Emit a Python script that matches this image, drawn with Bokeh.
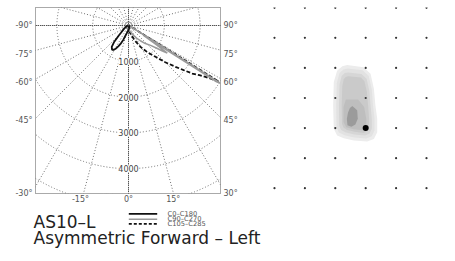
import numpy as np
from bokeh.plotting import figure
from bokeh.models import Range1d, FixedTicker, LinearAxis
from bokeh.layouts import column, row
from bokeh.embed import file_html
from bokeh.resources import INLINE
from bokeh.core.properties import value

# ---------------- data ----------------
# polar intensity curves (angle from nadir in degrees, intensity in cd)
c0_theta = [-90, -80, -70, -60, -55, -50, -46, -44, -41, -38, -34, -31, -29, -26, -23.5, -20, -16.5, -12, -8, -4, 0, 5, 10, 20, 30, 45, 60, 75, 90]
c0_cd = [15, 25, 45, 100, 150, 210, 300, 390, 620, 760, 820, 790, 745, 650, 560, 420, 292, 210, 170, 140, 120, 100, 85, 60, 45, 30, 20, 15, 10]

c90_theta = [-90, -60, -30, -10, 0, 10, 20, 28, 33, 38, 43, 48, 51, 53, 54.5, 55.3, 56, 56.8, 57.4, 57.9, 58.4, 59, 62, 70, 80, 90]
c90_cd = [10, 30, 60, 90, 100, 140, 200, 316, 430, 540, 690, 830, 1000, 1170, 1330, 1000, 600, 500, 2900, 3050, 1200, 300, 150, 80, 40, 20]

c105_theta = [-90, -60, -30, -10, 0, 8, 14, 22, 29.4, 35, 40.8, 45, 48.7, 51, 53, 55, 56.3, 57.3, 58.1, 58.5, 59, 61, 70, 90]
c105_cd = [10, 30, 60, 90, 110, 160, 230, 430, 684, 900, 1155, 1450, 1748, 1980, 2228, 2420, 2584, 2780, 2973, 1500, 300, 150, 60, 20]

ring_values = [1000, 2000, 3000, 4000, 5000, 6000, 7000]
ring_labels = ["1000", "2000", "3000", "4000"]
side_ticks = [0, -810, -1592, -2654, -4693]
left_labels = ["-90°", "-75°", "-60°", "-45°", "-30°"]
right_labels = ["90°", "75°", "60°", "45°", "30°"]
bottom_ticks = [-1340, 0, 1250]
bottom_labels = ["-15°", "0°", "15°"]

legend_names = ["C0–C180", "C90–C270", "C105–C285"]
title_main = "AS10–L"
title_sub = "Asymmetric Forward – Left"

# isolux contours (grid units, dots at integer positions)
iso_grid_x = [0, 1, 2, 3, 4, 5]
iso_grid_y = [0, 1, 2, 3, 4, 5, 6]
lum_pos = (3, 4)
iso_levels = [
    ([2.39, 2.93, 3.16, 3.27, 3.32, 3.38, 3.38, 3.27, 3.05, 2.61, 2.28, 2.06, 1.95, 1.93, 1.95, 2.06, 2.23],
     [1.90, 1.98, 2.19, 2.69, 3.25, 3.69, 4.14, 4.36, 4.45, 4.41, 4.34, 4.25, 4.02, 3.25, 2.47, 2.09, 1.94]),
    ([2.40, 2.90, 3.10, 3.20, 3.24, 3.29, 3.29, 3.20, 3.02, 2.62, 2.31, 2.12, 2.04, 2.03, 2.05, 2.14, 2.27],
     [2.02, 2.08, 2.27, 2.72, 3.25, 3.68, 4.08, 4.27, 4.35, 4.31, 4.24, 4.15, 3.97, 3.25, 2.50, 2.17, 2.05]),
    ([2.42, 2.86, 3.03, 3.12, 3.16, 3.20, 3.20, 3.13, 2.98, 2.63, 2.35, 2.19, 2.13, 2.12, 2.14, 2.21, 2.31],
     [2.15, 2.20, 2.36, 2.76, 3.25, 3.67, 4.02, 4.18, 4.25, 4.21, 4.15, 4.06, 3.92, 3.25, 2.55, 2.27, 2.17]),
    ([2.42, 2.85, 2.96, 3.04, 3.08, 3.11, 3.11, 3.05, 2.94, 2.64, 2.39, 2.27, 2.22, 2.21, 2.23, 2.28, 2.34],
     [2.28, 2.32, 2.45, 2.80, 3.25, 3.66, 3.96, 4.10, 4.16, 4.12, 4.06, 3.98, 3.86, 3.25, 2.60, 2.38, 2.30]),
    ([2.35, 2.75, 2.95, 3.02, 3.02, 2.90, 2.60, 2.36, 2.27, 2.27],
     [3.05, 3.05, 3.30, 3.70, 3.95, 4.07, 4.04, 3.97, 3.80, 3.30]),
    ([2.56, 2.72, 2.74, 2.66, 2.53, 2.40, 2.38, 2.42, 2.48],
     [3.27, 3.41, 3.69, 3.88, 3.96, 3.91, 3.69, 3.48, 3.33]),
]
iso_colors = ["#ececec", "#e2e2e2", "#d6d6d6", "#cacaca", "#bebebe", "#9b9b9b"]

FONT = "DejaVu Sans"

# ---------------- polar figure ----------------
p = figure(width=250, height=208, x_range=Range1d(-2598, 2570), y_range=Range1d(-4693, 503),
           output_backend="svg", toolbar_location=None, x_axis_location=None, y_axis_location=None,
           min_border_left=35, min_border_right=30, min_border_top=7, min_border_bottom=15)
p.xgrid.grid_line_color = None
p.ygrid.grid_line_color = None
p.outline_line_color = "#555555"
p.outline_line_dash = "1 1"
p.background_fill_color = "white"
p.border_fill_color = "white"

def mk_axis(ticks, labels):
    ax = LinearAxis(ticker=FixedTicker(ticks=ticks),
                    major_label_overrides={t: l for t, l in zip(ticks, labels)})
    ax.axis_line_color = None
    ax.major_tick_line_color = None
    ax.minor_tick_line_color = None
    ax.major_tick_out = 0
    ax.major_tick_in = 0
    ax.minor_tick_out = 0
    ax.major_label_text_font_size = "8px"
    ax.major_label_text_color = "#555555"
    ax.major_label_text_font = FONT
    ax.major_label_standoff = 3
    return ax

p.add_layout(mk_axis(side_ticks, left_labels), "left")
p.add_layout(mk_axis(side_ticks, right_labels), "right")
bax = mk_axis(bottom_ticks, bottom_labels)
bax.major_label_standoff = 1
p.add_layout(bax, "below")

# radial grid lines every 15 degrees
R = 8000
ang = np.deg2rad(np.arange(0, 360, 15))
p.segment(x0=0, y0=0, x1=R * np.sin(ang), y1=-R * np.cos(ang),
          line_color="#6f6f6f", line_width=1, line_dash="1 2")
# main axes lines (nadir and horizontal)
p.segment(x0=[0, -R], y0=[-R, 0], x1=[0, R], y1=[R, 0],
          line_color="#444444", line_width=1, line_dash="1 1")
# rings
p.circle(x=0, y=0, radius=ring_values, fill_color=None, line_color="#6f6f6f",
         line_width=1, line_dash="1 2")

def polar_xy(theta, cd):
    t = np.deg2rad(np.asarray(theta, dtype=float))
    r = np.asarray(cd, dtype=float)
    return r * np.sin(t), -r * np.cos(t)

x, y = polar_xy(c105_theta, c105_cd)
p.line(x, y, line_color="#111111", line_width=1.8, line_dash="4 2")
x, y = polar_xy(c90_theta, c90_cd)
p.line(x, y, line_color="#9a9a9a", line_width=1.5)
x, y = polar_xy(c0_theta, c0_cd)
p.line(x, y, line_color="#111111", line_width=1.8)

p.text(x=0, y=[-v for v in ring_values[:4]], text=ring_labels, text_align="center",
       text_baseline="middle", text_font_size="8px", text_color="#444444",
       text_font=value(FONT), background_fill_color="white")

# ---------------- isolux figure ----------------
# frame spans the same vertical band as the polar frame (y 7..193 on the page)
q = figure(width=205, height=208, x_range=Range1d(-0.789, 5.954), y_range=Range1d(6.176, -0.01),
           output_backend="svg", toolbar_location=None, x_axis_location=None, y_axis_location=None,
           min_border_left=0, min_border_right=0, min_border_top=7, min_border_bottom=15)
q.xgrid.grid_line_color = None
q.ygrid.grid_line_color = None
q.outline_line_color = None
for (xs, ys), c in zip(iso_levels, iso_colors):
    q.patch(xs, ys, fill_color=c, line_color=None)
gx, gy = np.meshgrid(iso_grid_x, iso_grid_y)
q.scatter(gx.ravel(), gy.ravel(), size=2.2, color="#333333", line_color=None)
q.scatter([lum_pos[0]], [lum_pos[1]], size=6, color="#000000", line_color=None)

# ---------------- text / legend figure ----------------
t = figure(width=455, height=53, x_range=Range1d(0, 455), y_range=Range1d(53, 0),
           output_backend="svg", toolbar_location=None, x_axis_location=None, y_axis_location=None,
           min_border=0)
t.xgrid.grid_line_color = None
t.ygrid.grid_line_color = None
t.outline_line_color = None
t.text(x=[33], y=[13.5], text=[title_main], text_font=value(FONT), text_font_size="17px",
       text_color="#222222", text_baseline="middle")
t.text(x=[33], y=[29.5], text=[title_sub], text_font=value(FONT), text_font_size="17px",
       text_color="#222222", text_baseline="middle")
leg_y = [5.3, 10.7, 15.4]
t.segment(x0=128.3, x1=156.7, y0=leg_y[0], y1=leg_y[0], line_color="#111111", line_width=1.8)
t.segment(x0=128.3, x1=156.7, y0=leg_y[1], y1=leg_y[1], line_color="#9a9a9a", line_width=1.5)
t.segment(x0=128.3, x1=156.7, y0=leg_y[2], y1=leg_y[2], line_color="#111111", line_width=1.8, line_dash="3 2")
t.text(x=167, y=leg_y, text=legend_names, text_font=value(FONT), text_font_size="6.7px",
       text_color="#555555", text_baseline="middle")

layout = column(row(p, q), t)
open("out.html", "w").write(file_html(layout, INLINE))
